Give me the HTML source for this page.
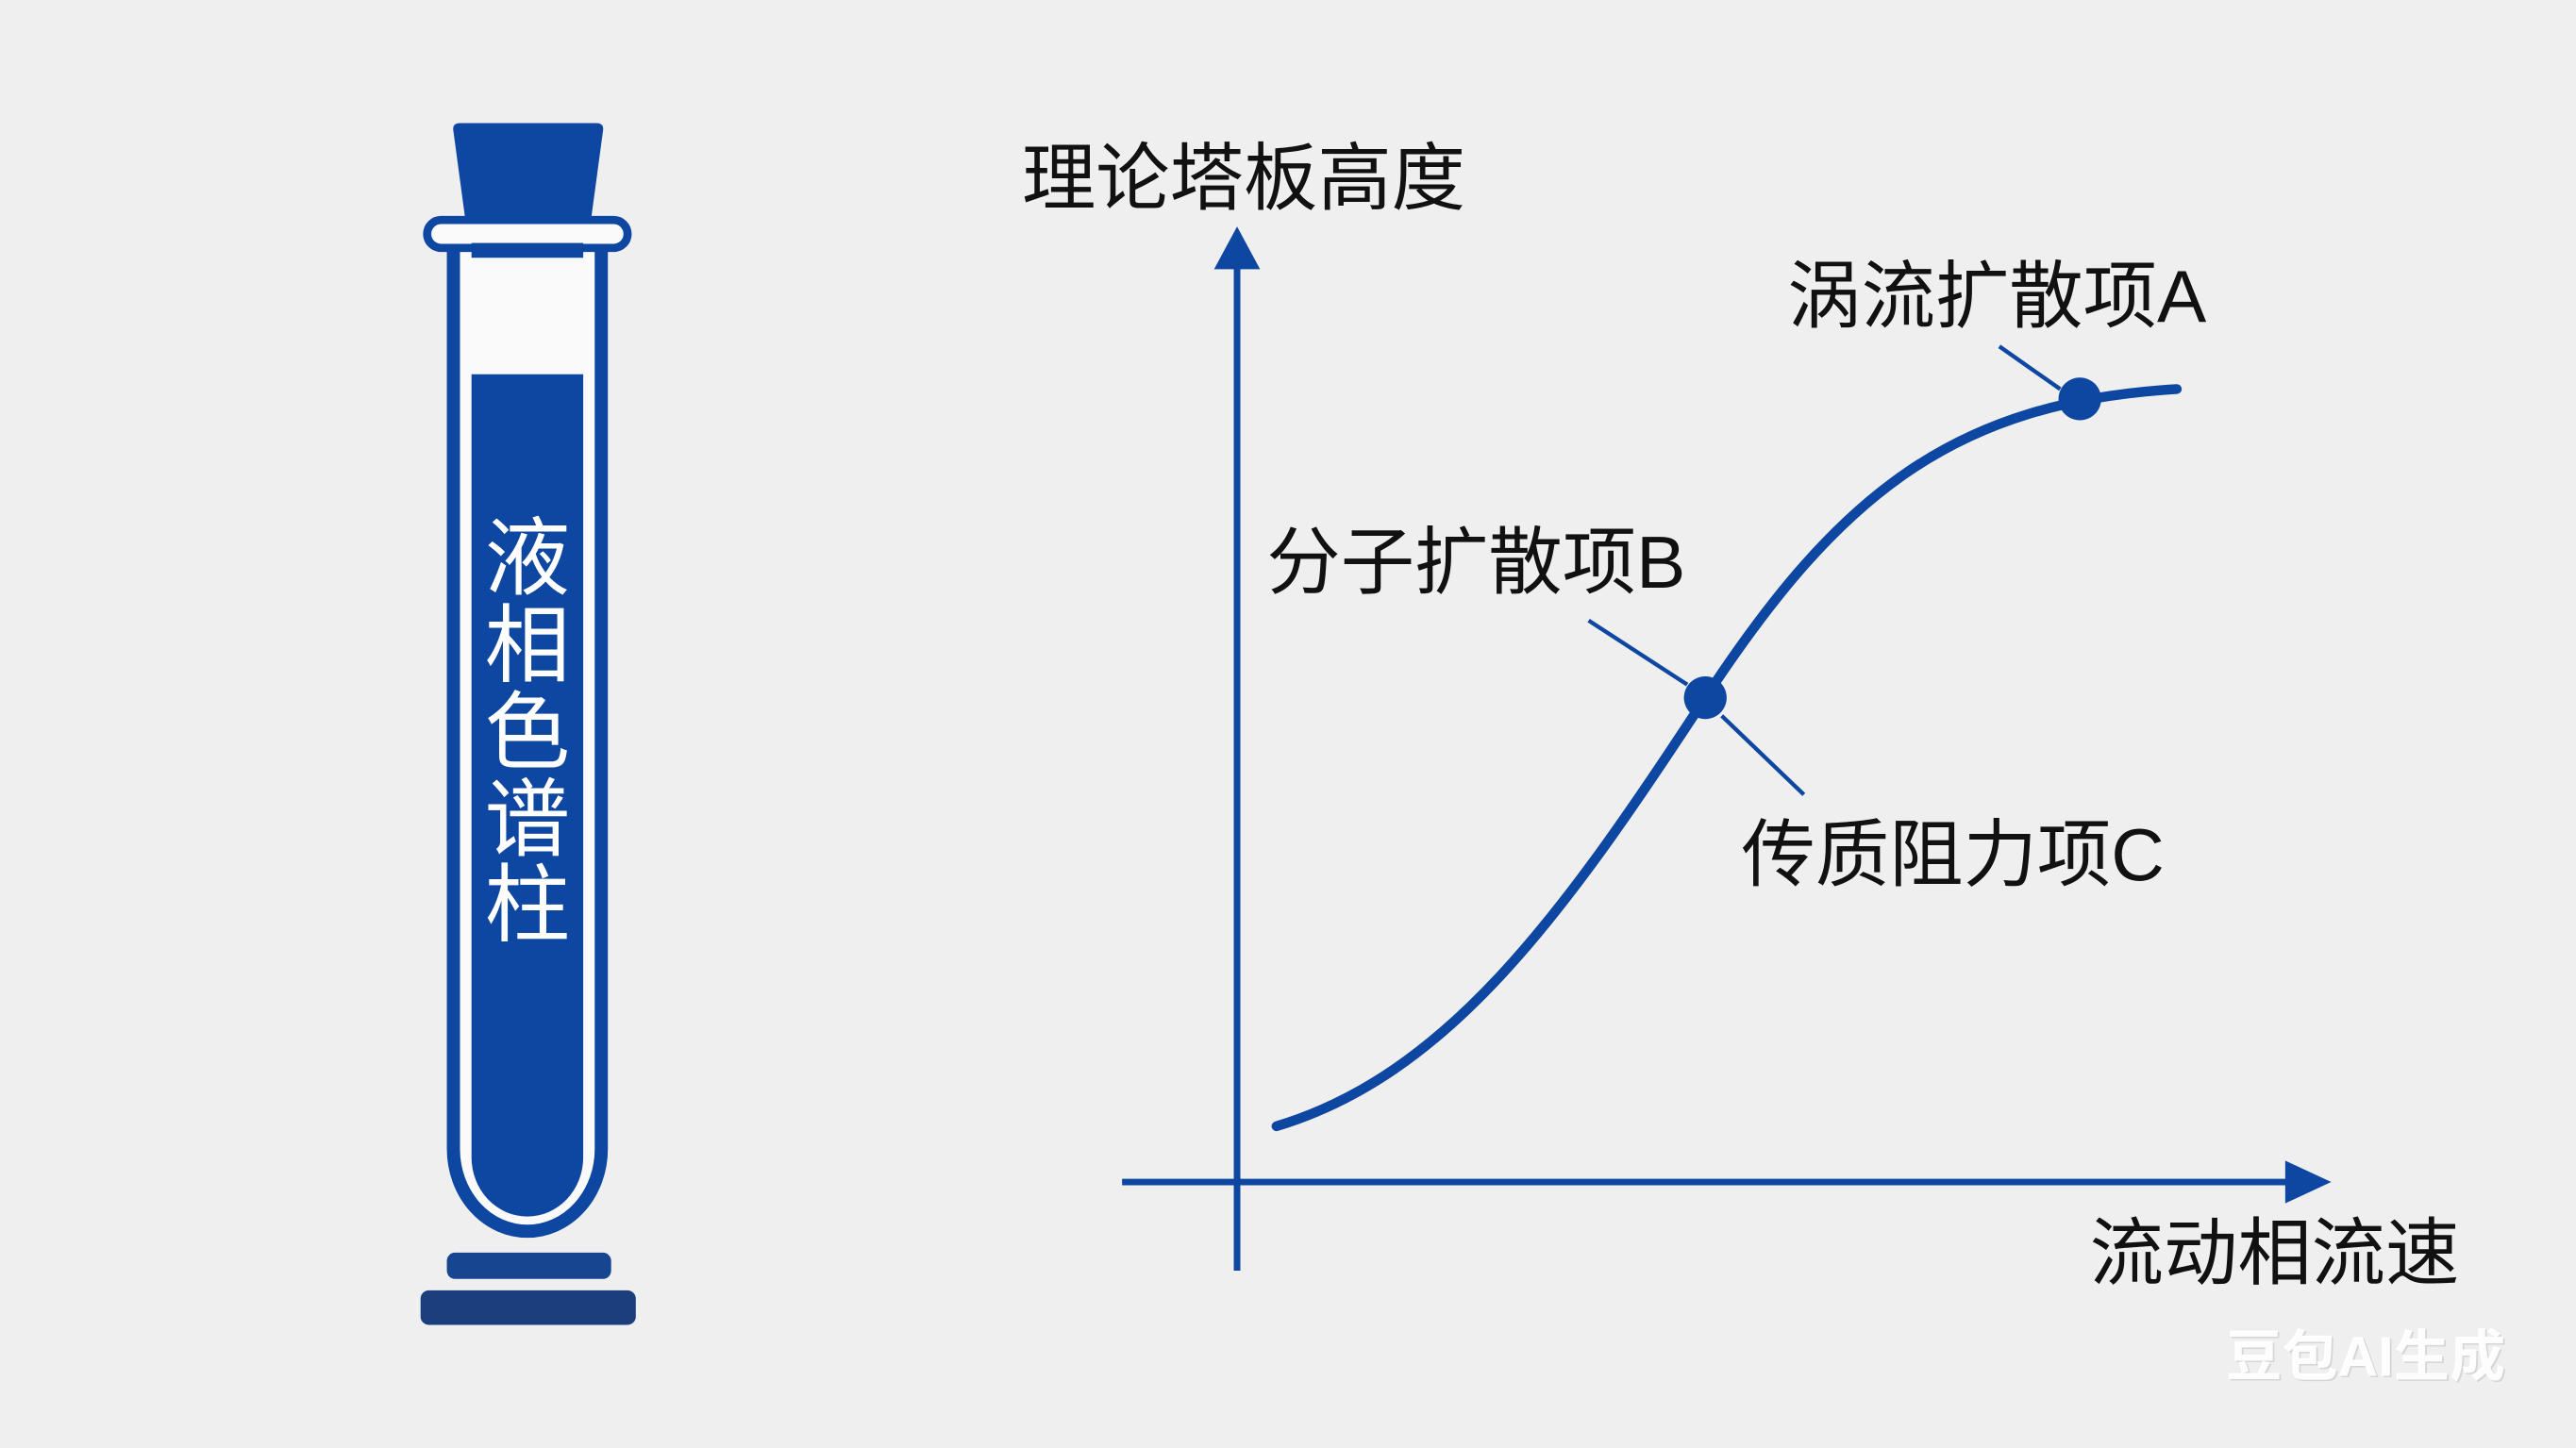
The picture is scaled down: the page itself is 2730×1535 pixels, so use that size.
<!DOCTYPE html>
<html><head><meta charset="utf-8"><style>
html,body{margin:0;padding:0;background:#efefef;}
svg{display:block;}
text{font-family:"Liberation Sans","Noto Sans CJK SC",sans-serif;}
</style></head><body>
<svg width="2730" height="1535" viewBox="0 0 1568 882" preserveAspectRatio="none" xmlns="http://www.w3.org/2000/svg">
<rect width="1568" height="882" fill="#efefef"/>
<!-- test tube -->
<path d="M280,75 L363,75 Q368,75 367,80 L360,132 L283,132 L276,80 Q275,75 280,75 Z" fill="#0d47a1"/>
<path d="M276,140 L276,700 A45,50 0 0 0 366,700 L366,140" fill="#fafafa" stroke="#0d47a1" stroke-width="8"/>
<rect x="260" y="134" width="122" height="17" rx="8.5" fill="#fafafa" stroke="#0d47a1" stroke-width="5"/>
<rect x="287" y="148" width="68" height="9" fill="#0d47a1"/>
<path d="M287,228 L355,228 L355,705 A34,36 0 0 1 287,705 Z" fill="#0d47a1"/>
<g fill="#ffffff" font-size="52" text-anchor="middle">
<text x="321" y="358">液</text>
<text x="321" y="411">相</text>
<text x="321" y="464">色</text>
<text x="321" y="517">谱</text>
<text x="321" y="569">柱</text>
</g>
<rect x="272" y="763" width="100" height="16" rx="5" fill="#17458f"/>
<rect x="256" y="786" width="131" height="21" rx="5" fill="#1b3f7c"/>
<!-- axes -->
<g stroke="#0d47a1" stroke-width="4" fill="none">
<line x1="753" y1="774" x2="753" y2="160"/>
<line x1="683" y1="720" x2="1395" y2="720"/>
</g>
<polygon points="753,138 739,164 767,164" fill="#0d47a1"/>
<polygon points="1419,720 1391,707 1391,733" fill="#0d47a1"/>
<!-- curve -->
<path d="M777,686 C880,655 950,560 1038,425 C1120,300 1190,245 1325,237" fill="none" stroke="#0d47a1" stroke-width="6" stroke-linecap="round"/>
<g stroke="#0d47a1" stroke-width="2.5">
<line x1="1217" y1="211" x2="1254" y2="237"/>
<line x1="967" y1="378" x2="1027" y2="417"/>
<line x1="1048" y1="436" x2="1098" y2="484"/>
</g>
<circle cx="1038" cy="425" r="13" fill="#0d47a1"/>
<circle cx="1266" cy="243" r="13" fill="#0d47a1"/>
<!-- labels -->
<g fill="#111" font-size="45">
<text x="622" y="124">理论塔板高度</text>
<text x="1088" y="196">涡流扩散项A</text>
<text x="771" y="358">分子扩散项B</text>
<text x="1060" y="536">传质阻力项C</text>
<text x="1272" y="779">流动相流速</text>
</g>
<text x="1356" y="839" font-size="34" font-weight="bold" fill="#bbbbbb" fill-opacity="0.5">豆包AI生成</text>
<text x="1355" y="838" font-size="34" font-weight="bold" fill="#ffffff" fill-opacity="0.95">豆包AI生成</text>
</svg>
</body></html>
